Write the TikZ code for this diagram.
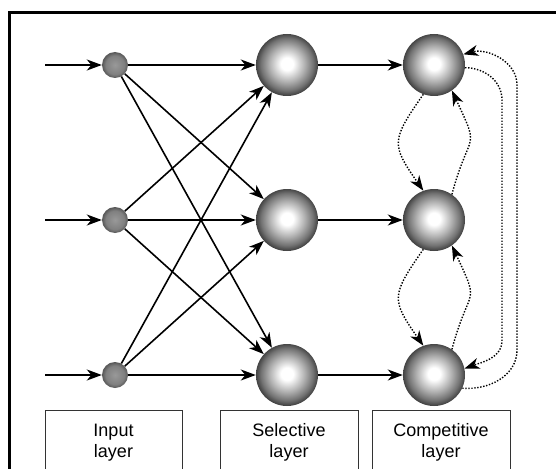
\documentclass[tikz,border=0pt]{standalone}
\usepackage{fontspec}
\setmainfont{Liberation Sans}
\usetikzlibrary{arrows.meta, positioning}
\pgfdeclareradialshading{sphere}{\pgfpoint{0bp}{1bp}}{color(0bp)=(white); color(5bp)=(white); color(14bp)=(black!30); color(21bp)=(black!55); color(25bp)=(black!74); color(50bp)=(black!74)}
\pgfdeclareradialshading{dot}{\pgfpoint{0bp}{0bp}}{color(0bp)=(black!40); color(18bp)=(black!50); color(25bp)=(black!66); color(50bp)=(black!66)}

\begin{document}
\begin{tikzpicture}[x=1pt, y=-1pt,
  inball/.style={circle, shading=dot, minimum size=26pt, inner sep=0pt},
  bigball/.style={circle, shading=sphere, minimum size=62pt, inner sep=0pt},
  conn/.style={line width=1.6pt, -{Stealth[length=15pt, width=11pt, inset=4.5pt]}},
  inhib/.style={line width=1.4pt, dash pattern=on 1.4pt off 1.6pt, -{Stealth[length=15pt, width=11pt, inset=4.5pt]}},
  layerbox/.style={draw=black!80, line width=1pt, anchor=north, minimum width=137pt, minimum height=64pt, align=center, font=\fontsize{18}{21}\selectfont}
]
  \clip (0,0) rectangle (556,468);
  \fill[white] (0,0) rectangle (556,468);
  % frame
  \draw[line width=3pt] (9,480) -- (9,13) -- (570,13);

  % the three layers
  \foreach \i/\y in {1/65, 2/220, 3/375} {
    \coordinate (x\i) at (45,\y);
    \node[inball] (in\i) at (115,\y) {};
    \node[bigball] (sel\i) at (287,\y) {};
    \node[bigball] (com\i) at (434,\y) {};
  }

  % input -> selective -> competitive
  \foreach \i in {1,2,3} {
    \draw[conn] (x\i) -- (in\i);
    \foreach \j in {1,2,3}
      \draw[conn] (in\i) -- (sel\j);
    \draw[conn] (sel\i) -- (com\i);
  }

  % competition between neighbours
  \foreach \a/\b in {1/2, 2/3} {
    \draw[inhib] (com\a.250) to[out=235, in=125, looseness=1.5] (com\b.110);
    \draw[inhib] (com\b.55) to[out=75, in=295, looseness=1.7] (com\a.-55);
  }

  % competition between the outer nodes
  \coordinate (rin1) at (502,100);
  \coordinate (rin2) at (502,340);
  \coordinate (rout1) at (517,350);
  \coordinate (rout2) at (517,85);
  \draw[inhib] (com1.-5) to[out=0, in=90] (rin1) -- (rin2) to[out=270, in=20] (com3.12);
  \draw[inhib] (com3.-25) to[out=-5, in=270] (rout1) -- (rout2) to[out=90, in=15] (com1.20);

  % layer labels
  \node[layerbox] (lin) at (113.5,410) {Input\\layer};
  \node[layerbox, minimum width=138pt] (lsel) at (289,410) {Selective\\layer};
  \node[layerbox, minimum width=138pt] (lcom) at (441,410) {Competitive\\layer};
\end{tikzpicture}
\end{document}
